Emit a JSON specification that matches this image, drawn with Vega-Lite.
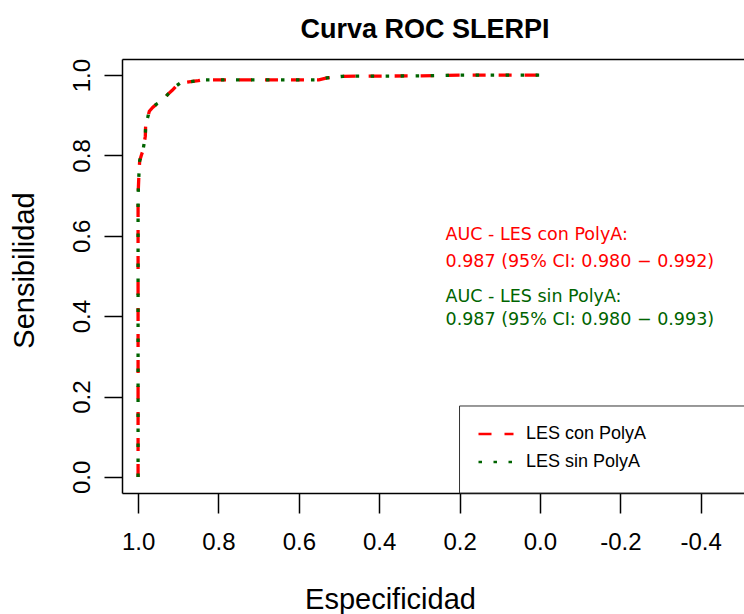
{
  "$schema": "https://vega.github.io/schema/vega-lite/v6.json",
  "width": 622,
  "height": 434,
  "autosize": {"type": "none"},
  "padding": {"left": 122, "top": 59, "right": 0, "bottom": 121},
  "background": "white",
  "config": {"view": {"stroke": null}, "font": "Liberation Sans"},
  "title": {"text": "Curva ROC SLERPI", "font": "Liberation Sans", "fontSize": 27, "fontWeight": "bold", "color": "black", "anchor": "middle", "frame": "group", "baseline": "alphabetic", "offset": 25, "dx": -8, "dy": 32},
  "datasets": {
    "curvas": [
      {"serie": "LES con PolyA", "paso": 1, "especificidad": 1.000, "sensibilidad": 0.000},
      {"serie": "LES con PolyA", "paso": 2, "especificidad": 1.000, "sensibilidad": 0.700},
      {"serie": "LES con PolyA", "paso": 3, "especificidad": 0.998, "sensibilidad": 0.750},
      {"serie": "LES con PolyA", "paso": 4, "especificidad": 0.996, "sensibilidad": 0.787},
      {"serie": "LES con PolyA", "paso": 5, "especificidad": 0.992, "sensibilidad": 0.800},
      {"serie": "LES con PolyA", "paso": 6, "especificidad": 0.988, "sensibilidad": 0.812},
      {"serie": "LES con PolyA", "paso": 7, "especificidad": 0.984, "sensibilidad": 0.835},
      {"serie": "LES con PolyA", "paso": 8, "especificidad": 0.982, "sensibilidad": 0.848},
      {"serie": "LES con PolyA", "paso": 9, "especificidad": 0.981, "sensibilidad": 0.880},
      {"serie": "LES con PolyA", "paso": 10, "especificidad": 0.976, "sensibilidad": 0.895},
      {"serie": "LES con PolyA", "paso": 11, "especificidad": 0.972, "sensibilidad": 0.910},
      {"serie": "LES con PolyA", "paso": 12, "especificidad": 0.963, "sensibilidad": 0.920},
      {"serie": "LES con PolyA", "paso": 13, "especificidad": 0.954, "sensibilidad": 0.928},
      {"serie": "LES con PolyA", "paso": 14, "especificidad": 0.943, "sensibilidad": 0.934},
      {"serie": "LES con PolyA", "paso": 15, "especificidad": 0.934, "sensibilidad": 0.943},
      {"serie": "LES con PolyA", "paso": 16, "especificidad": 0.926, "sensibilidad": 0.952},
      {"serie": "LES con PolyA", "paso": 17, "especificidad": 0.915, "sensibilidad": 0.962},
      {"serie": "LES con PolyA", "paso": 18, "especificidad": 0.905, "sensibilidad": 0.973},
      {"serie": "LES con PolyA", "paso": 19, "especificidad": 0.895, "sensibilidad": 0.980},
      {"serie": "LES con PolyA", "paso": 20, "especificidad": 0.880, "sensibilidad": 0.982},
      {"serie": "LES con PolyA", "paso": 21, "especificidad": 0.850, "sensibilidad": 0.986},
      {"serie": "LES con PolyA", "paso": 22, "especificidad": 0.840, "sensibilidad": 0.988},
      {"serie": "LES con PolyA", "paso": 23, "especificidad": 0.700, "sensibilidad": 0.988},
      {"serie": "LES con PolyA", "paso": 24, "especificidad": 0.550, "sensibilidad": 0.988},
      {"serie": "LES con PolyA", "paso": 25, "especificidad": 0.530, "sensibilidad": 0.993},
      {"serie": "LES con PolyA", "paso": 26, "especificidad": 0.490, "sensibilidad": 0.997},
      {"serie": "LES con PolyA", "paso": 27, "especificidad": 0.300, "sensibilidad": 0.998},
      {"serie": "LES con PolyA", "paso": 28, "especificidad": 0.200, "sensibilidad": 1.000},
      {"serie": "LES con PolyA", "paso": 29, "especificidad": 0.000, "sensibilidad": 1.000},
      {"serie": "LES sin PolyA", "paso": 1, "especificidad": 1.000, "sensibilidad": 0.000},
      {"serie": "LES sin PolyA", "paso": 2, "especificidad": 1.000, "sensibilidad": 0.700},
      {"serie": "LES sin PolyA", "paso": 3, "especificidad": 0.998, "sensibilidad": 0.750},
      {"serie": "LES sin PolyA", "paso": 4, "especificidad": 0.996, "sensibilidad": 0.787},
      {"serie": "LES sin PolyA", "paso": 5, "especificidad": 0.992, "sensibilidad": 0.800},
      {"serie": "LES sin PolyA", "paso": 6, "especificidad": 0.988, "sensibilidad": 0.812},
      {"serie": "LES sin PolyA", "paso": 7, "especificidad": 0.984, "sensibilidad": 0.835},
      {"serie": "LES sin PolyA", "paso": 8, "especificidad": 0.982, "sensibilidad": 0.848},
      {"serie": "LES sin PolyA", "paso": 9, "especificidad": 0.981, "sensibilidad": 0.880},
      {"serie": "LES sin PolyA", "paso": 10, "especificidad": 0.976, "sensibilidad": 0.895},
      {"serie": "LES sin PolyA", "paso": 11, "especificidad": 0.972, "sensibilidad": 0.910},
      {"serie": "LES sin PolyA", "paso": 12, "especificidad": 0.963, "sensibilidad": 0.920},
      {"serie": "LES sin PolyA", "paso": 13, "especificidad": 0.954, "sensibilidad": 0.928},
      {"serie": "LES sin PolyA", "paso": 14, "especificidad": 0.943, "sensibilidad": 0.934},
      {"serie": "LES sin PolyA", "paso": 15, "especificidad": 0.934, "sensibilidad": 0.943},
      {"serie": "LES sin PolyA", "paso": 16, "especificidad": 0.926, "sensibilidad": 0.952},
      {"serie": "LES sin PolyA", "paso": 17, "especificidad": 0.915, "sensibilidad": 0.962},
      {"serie": "LES sin PolyA", "paso": 18, "especificidad": 0.905, "sensibilidad": 0.973},
      {"serie": "LES sin PolyA", "paso": 19, "especificidad": 0.895, "sensibilidad": 0.980},
      {"serie": "LES sin PolyA", "paso": 20, "especificidad": 0.880, "sensibilidad": 0.982},
      {"serie": "LES sin PolyA", "paso": 21, "especificidad": 0.850, "sensibilidad": 0.986},
      {"serie": "LES sin PolyA", "paso": 22, "especificidad": 0.840, "sensibilidad": 0.988},
      {"serie": "LES sin PolyA", "paso": 23, "especificidad": 0.700, "sensibilidad": 0.988},
      {"serie": "LES sin PolyA", "paso": 24, "especificidad": 0.550, "sensibilidad": 0.988},
      {"serie": "LES sin PolyA", "paso": 25, "especificidad": 0.530, "sensibilidad": 0.993},
      {"serie": "LES sin PolyA", "paso": 26, "especificidad": 0.490, "sensibilidad": 0.997},
      {"serie": "LES sin PolyA", "paso": 27, "especificidad": 0.300, "sensibilidad": 0.998},
      {"serie": "LES sin PolyA", "paso": 28, "especificidad": 0.200, "sensibilidad": 1.000},
      {"serie": "LES sin PolyA", "paso": 29, "especificidad": 0.000, "sensibilidad": 1.000}
    ],
    "textos": [
      {"serie": "LES con PolyA", "linea": "AUC - LES con PolyA:", "especificidad": 0.235, "sensibilidad": 0.5896},
      {"serie": "LES con PolyA", "linea": "0.987 (95% CI: 0.980 \u2212 0.992)", "especificidad": 0.235, "sensibilidad": 0.5224},
      {"serie": "LES sin PolyA", "linea": "AUC - LES sin PolyA:", "especificidad": 0.235, "sensibilidad": 0.4353},
      {"serie": "LES sin PolyA", "linea": "0.987 (95% CI: 0.980 \u2212 0.993)", "especificidad": 0.235, "sensibilidad": 0.3781}
    ]
  },
  "resolve": {"scale": {"x": "shared", "y": "shared"}, "axis": {"x": "independent"}},
  "layer": [
    {
      "data": {"values": [{}]},
      "mark": {"type": "rect", "fill": "white", "stroke": "#333333", "strokeWidth": 1},
      "encoding": {
        "x": {"datum": 0.2001, "type": "quantitative", "scale": {"domain": [-0.5078, 1.04], "reverse": true, "nice": false, "zero": false}, "axis": {"orient": "top", "labels": false, "ticks": false, "grid": false, "title": null, "domainColor": "black", "domainWidth": 1.5}},
        "x2": {"datum": -0.7},
        "y": {"datum": 0.1765, "type": "quantitative", "scale": {"domain": [-0.04, 1.04], "nice": false, "zero": false}},
        "y2": {"datum": -0.04}
      }
    },
    {
      "data": {"name": "curvas"},
      "mark": {"type": "line", "strokeWidth": 3.3, "strokeCap": "butt"},
      "encoding": {
        "x": {"field": "especificidad", "type": "quantitative", "scale": {"domain": [-0.5078, 1.04], "reverse": true, "nice": false, "zero": false},
          "axis": {"orient": "bottom", "values": [1, 0.8, 0.6, 0.4, 0.2, 0, -0.2, -0.4], "labelExpr": "replace(format(datum.value, '.1f'), '\u2212', '-')", "labelFont": "Liberation Sans", "labelFontSize": 24, "labelColor": "black", "labelBaseline": "alphabetic", "labelPadding": 36, "labelFlush": false, "labelOverlap": false, "tickSize": 20, "tickColor": "black", "tickWidth": 1.5, "domainColor": "black", "domainWidth": 1.5, "grid": false,
            "title": "Especificidad", "titleFont": "Liberation Sans", "titleFontSize": 29, "titleFontWeight": "normal", "titleColor": "black", "titleBaseline": "alphabetic", "titleAlign": "center", "titleX": 268, "titleY": 115}},
        "y": {"field": "sensibilidad", "type": "quantitative", "scale": {"domain": [-0.04, 1.04], "nice": false, "zero": false},
          "axis": {"orient": "left", "values": [0, 0.2, 0.4, 0.6, 0.8, 1], "format": ".1f", "labelFont": "Liberation Sans", "labelFontSize": 24, "labelColor": "black", "labelAngle": 270, "labelAlign": "center", "labelBaseline": "alphabetic", "labelPadding": 15, "labelOverlap": false, "tickSize": 18, "tickColor": "black", "tickWidth": 1.5, "domainColor": "black", "domainWidth": 1.5, "grid": false,
            "title": "Sensibilidad", "titleFont": "Liberation Sans", "titleFontSize": 29, "titleFontWeight": "normal", "titleColor": "black", "titleAngle": 270, "titleBaseline": "alphabetic", "titleAlign": "center", "titleX": -89, "titleY": 211}},
        "color": {"field": "serie", "type": "nominal", "scale": {"domain": ["LES con PolyA", "LES sin PolyA"], "range": ["#FF0000", "#006400"]},
          "legend": {"orient": "none", "legendX": 355, "legendY": 356, "title": null, "padding": 0, "symbolType": "stroke", "symbolSize": 1225, "symbolStrokeWidth": 2.5, "labelFont": "Liberation Sans", "labelFontSize": 18, "labelColor": "black", "labelOffset": 11, "rowPadding": -4}},
        "strokeDash": {"field": "serie", "type": "nominal", "scale": {"domain": ["LES con PolyA", "LES sin PolyA"], "range": [[13, 13], [3.5, 11.5]]},
          "legend": {"orient": "none", "legendX": 355, "legendY": 356, "title": null, "padding": 0, "symbolType": "stroke", "symbolSize": 1225, "symbolStrokeWidth": 2.5, "labelFont": "Liberation Sans", "labelFontSize": 18, "labelColor": "black", "labelOffset": 11, "rowPadding": -4}},
        "order": {"field": "paso", "type": "quantitative"}
      }
    },
    {
      "data": {"name": "textos"},
      "transform": [{"filter": "datum.serie === 'LES con PolyA'"}],
      "mark": {"type": "text", "font": "DejaVu Sans", "fontSize": 17.5, "align": "left", "baseline": "alphabetic", "color": "#FF0000"},
      "encoding": {
        "x": {"field": "especificidad", "type": "quantitative", "axis": null},
        "y": {"field": "sensibilidad", "type": "quantitative"},
        "text": {"field": "linea"}
      }
    },
    {
      "data": {"name": "textos"},
      "transform": [{"filter": "datum.serie === 'LES sin PolyA'"}],
      "mark": {"type": "text", "font": "DejaVu Sans", "fontSize": 17.5, "align": "left", "baseline": "alphabetic", "color": "#006400"},
      "encoding": {
        "x": {"field": "especificidad", "type": "quantitative", "axis": null},
        "y": {"field": "sensibilidad", "type": "quantitative"},
        "text": {"field": "linea"}
      }
    }
  ]
}
